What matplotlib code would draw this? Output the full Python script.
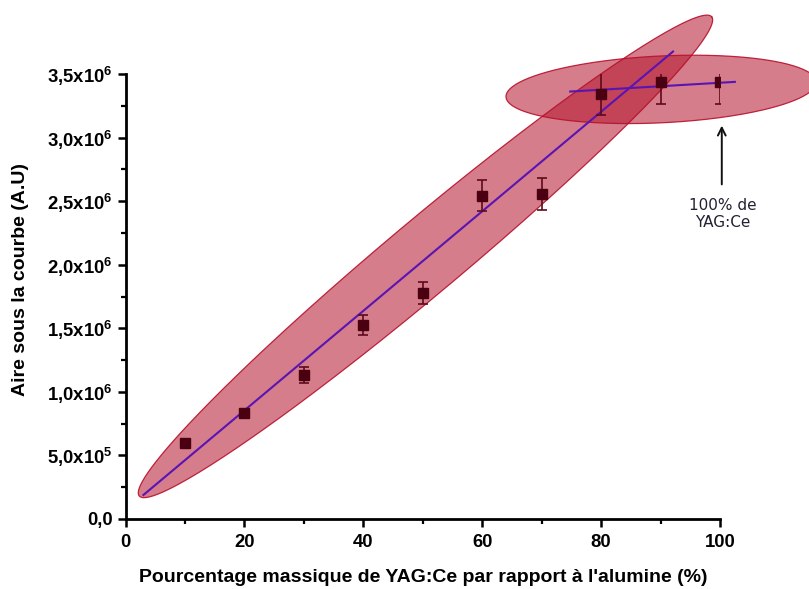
import numpy as np
import matplotlib
matplotlib.use("Agg")
import matplotlib.pyplot as plt
from matplotlib.ticker import FixedLocator, MultipleLocator

# ---------------- data ----------------
pct = [10, 20, 30, 40, 50, 60, 70, 80, 90, 100]
aire = [0.600e6, 0.832e6, 1.133e6, 1.526e6, 1.776e6, 2.544e6, 2.557e6, 3.341e6, 3.440e6, 3.440e6]
aire_err = [0.015e6, 0.02e6, 0.061e6, 0.079e6, 0.088e6, 0.125e6, 0.125e6, 0.165e6, 0.175e6, 0.175e6]

# linear fit lines (end points)
fit1_x = [3.0, 92.1]
fit1_y = [0.189e6, 3.677e6]
fit2_x = [74.8, 102.5]
fit2_y = [3.362e6, 3.438e6]

# highlight ellipses: tips of the major axis (data coords) and minor/major ratio
ell1_tips = [(2.3, 0.181e6), (98.6, 3.95e6)]
ell1_ratio = 0.099
ell2_tips = [(64.0, 3.32e6), (116.2, 3.438e6)]
ell2_ratio = 0.215

xticks = [0, 20, 40, 60, 80, 100]
xtick_labels = ["0", "20", "40", "60", "80", "100"]
yticks = [0, 0.5e6, 1.0e6, 1.5e6, 2.0e6, 2.5e6, 3.0e6, 3.5e6]
ytick_labels = ["0,0", "5,0x10$^{5}$", "1,0x10$^{6}$", "1,5x10$^{6}$", "2,0x10$^{6}$",
                "2,5x10$^{6}$", "3,0x10$^{6}$", "3,5x10$^{6}$"]

xlabel = "Pourcentage massique de YAG:Ce par rapport à l'alumine (%)"
ylabel = "Aire sous la courbe (A.U)"
note_text = "100% de\nYAG:Ce"
note_xy = (100.3, 3.116e6)
note_text_xy = (100.5, 2.40e6)

# ---------------- style ----------------
plt.rcParams['font.family'] = ['Liberation Sans', 'DejaVu Sans']
plt.rcParams['mathtext.fontset'] = 'custom'
plt.rcParams['mathtext.rm'] = 'Liberation Sans:bold'
plt.rcParams['mathtext.bf'] = 'Liberation Sans:bold'
plt.rcParams['mathtext.it'] = 'Liberation Sans:bold'

W, H = 809, 589
fig = plt.figure(figsize=(W / 100, H / 100), dpi=100)
x0, x1 = 125.6, 720.0
y0, y1 = 519.0, 74.0
ax = fig.add_axes([x0 / W, 1 - y0 / H, (x1 - x0) / W, (y0 - y1) / H])
ax.set_xlim(0, 100)
ax.set_ylim(0, 3.5e6)

for s in ['top', 'right']:
    ax.spines[s].set_visible(False)
for s in ['left', 'bottom']:
    ax.spines[s].set_linewidth(2.0)

ax.xaxis.set_major_locator(FixedLocator(xticks))
ax.set_xticklabels(xtick_labels)
ax.xaxis.set_minor_locator(MultipleLocator(10))
ax.yaxis.set_major_locator(FixedLocator(yticks))
ax.set_yticklabels(ytick_labels)
ax.yaxis.set_minor_locator(MultipleLocator(0.25e6))
ax.tick_params(which='major', direction='out', length=6, width=1.8, labelsize=13.3)
ax.tick_params(which='minor', direction='out', length=3.8, width=1.6)
ax.tick_params(axis='y', which='major', pad=3.5)
ax.tick_params(axis='x', which='major', pad=5)
for lab in ax.get_xticklabels() + ax.get_yticklabels():
    lab.set_fontweight('bold')

ax.set_xlabel(xlabel, fontsize=14, fontweight='bold', labelpad=13)
ax.set_ylabel(ylabel, fontsize=14, fontweight='bold')
ax.yaxis.set_label_coords(-0.162, 0.539)


def ellipse_poly(tips, ratio, n=300):
    """Ellipse defined in display space, returned in data coordinates."""
    p = ax.transData.transform(np.array(tips))
    c = p.mean(axis=0)
    u = (p[1] - p[0]) / 2.0
    v = np.array([-u[1], u[0]]) * ratio
    t = np.linspace(0, 2 * np.pi, n)
    pts = c + np.outer(np.cos(t), u) + np.outer(np.sin(t), v)
    return ax.transData.inverted().transform(pts)


fill_col = '#b4182e'
edge_col = '#b8102c'
for tips, ratio in [(ell1_tips, ell1_ratio), (ell2_tips, ell2_ratio)]:
    poly = ellipse_poly(tips, ratio)
    ax.fill(poly[:, 0], poly[:, 1], facecolor=fill_col, alpha=0.56, edgecolor='none',
            clip_on=False, zorder=1)
    ax.plot(poly[:, 0], poly[:, 1], color=edge_col, lw=0.9, alpha=0.9, clip_on=False, zorder=1.1)

line_col = '#5a14b4'
ax.plot(fit1_x, fit1_y, color=line_col, lw=1.5, clip_on=False, zorder=3)
ax.plot(fit2_x, fit2_y, color=line_col, lw=1.5, clip_on=False, zorder=3)

ax.errorbar(pct, aire, yerr=aire_err, fmt='s', color='#4a0010', ms=7,
            ecolor='#5c0a1c', elinewidth=1.2, capsize=3.8, capthick=1.2, zorder=4)

ax.annotate("", xy=note_xy, xytext=(note_xy[0], 2.61e6),
            arrowprops=dict(arrowstyle='->', color='#111111', lw=1.4,
                            mutation_scale=14), annotation_clip=False)
ax.text(note_text_xy[0], note_text_xy[1], note_text, ha='center', va='center',
        fontsize=11, family=['DejaVu Sans'], color='#222233', linespacing=1.2,
        clip_on=False)

fig.savefig('out.png', dpi=100)
